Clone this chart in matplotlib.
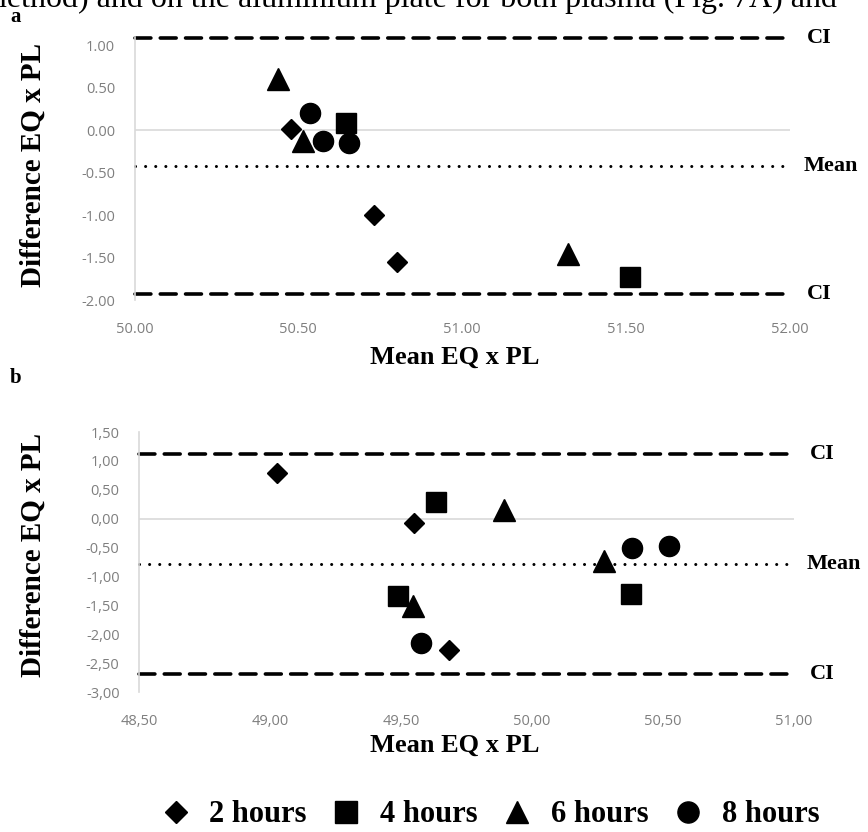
import numpy as np
import matplotlib

matplotlib.use("Agg")
import matplotlib.pyplot as plt
from matplotlib.lines import Line2D
from matplotlib.ticker import FuncFormatter

# ------------------------------------------------------------------
# dati (Bland-Altman EQ x PL)
# ------------------------------------------------------------------
groups = ["2 hours", "4 hours", "6 hours", "8 hours"]
markers = ["D", "s", "^", "o"]

# pannello a
a_mean = {
    "2 hours": [50.478, 50.732, 50.800],
    "4 hours": [50.645, 51.512],
    "6 hours": [50.437, 50.515, 51.322],
    "8 hours": [50.536, 50.576, 50.653],
}
a_diff = {
    "2 hours": [0.01, -1.00, -1.55],
    "4 hours": [0.09, -1.73],
    "6 hours": [0.61, -0.13, -1.46],
    "8 hours": [0.21, -0.12, -0.15],
}
a_ci_up, a_bias, a_ci_low = 1.09, -0.42, -1.93

# pannello b
b_mean = {
    "2 hours": [49.028, 49.551, 49.683],
    "4 hours": [49.634, 49.487, 50.377],
    "6 hours": [49.893, 50.275, 49.547],
    "8 hours": [50.380, 50.524, 49.575],
}
b_diff = {
    "2 hours": [0.79, -0.08, -2.28],
    "4 hours": [0.28, -1.33, -1.30],
    "6 hours": [0.15, -0.74, -1.52],
    "8 hours": [-0.50, -0.48, -2.15],
}
b_ci_up, b_bias, b_ci_low = 1.12, -0.78, -2.68

msizes = {"D": 10.5, "s": 14.5, "^": 15.5, "o": 14.5}

SERIF = "Liberation Serif"
TICK_FONT = "Open Sans"
GRAY = "#d9d9d9"


def draw_panel(ax, means, diffs, ci_up, bias, ci_low, xlim, ylim, dec):
    ax.set_xlim(*xlim)
    ax.set_ylim(*ylim)
    ax.axhline(0, color=GRAY, lw=1.2, zorder=1)
    for y in (ci_up, ci_low):
        ax.axhline(y, color="black", lw=2.6, dashes=(4.4, 2.6),
                   dash_capstyle="round", clip_on=False, zorder=2)
    ax.axhline(bias, color="black", lw=2.2, dashes=(0.01, 3.3),
               dash_capstyle="round", clip_on=False, zorder=2)
    for g, m in zip(groups, markers):
        ax.plot(means[g], diffs[g], ls="none", marker=m, ms=msizes[m],
                color="black", mec="black", zorder=3, clip_on=False)

    for s in ("top", "right", "bottom"):
        ax.spines[s].set_visible(False)
    ax.spines["left"].set_color(GRAY)
    ax.spines["left"].set_linewidth(1.2)
    ax.tick_params(length=0, labelsize=10.5, colors="#7f7f7f", pad=14)
    ax.tick_params(axis="x", pad=16)
    fmt = FuncFormatter(lambda v, p: f"{v:.2f}".replace(".", dec))
    ax.xaxis.set_major_formatter(fmt)
    ax.yaxis.set_major_formatter(fmt)
    for lab in ax.get_xticklabels() + ax.get_yticklabels():
        lab.set_fontfamily(TICK_FONT)

    lab_kw = dict(transform=ax.get_yaxis_transform(), fontsize=16,
                  fontweight="bold", family=SERIF, va="center", ha="left")
    ax.text(1.025, ci_up, "CI", **lab_kw)
    ax.text(1.02, bias, "Mean", **lab_kw)
    ax.text(1.025, ci_low, "CI", **lab_kw)


fig = plt.figure(figsize=(8.68, 8.32), dpi=100)

ax_a = fig.add_axes([134.5 / 868, 1 - 300 / 832, 655.5 / 868, 263 / 832])
draw_panel(ax_a, a_mean, a_diff, a_ci_up, a_bias, a_ci_low,
           (50.0, 52.0), (-2.0, 1.1), ".")
ax_a.set_xticks(np.arange(50.0, 52.01, 0.5))
ax_a.set_yticks(np.arange(-2.0, 1.01, 0.5))

ax_b = fig.add_axes([139 / 868, 1 - 692 / 832, 655 / 868, 260 / 832])
draw_panel(ax_b, b_mean, b_diff, b_ci_up, b_bias, b_ci_low,
           (48.5, 51.0), (-3.0, 1.5), ",")
ax_b.set_xticks(np.arange(48.5, 51.01, 0.5))
ax_b.set_yticks(np.arange(-3.0, 1.51, 0.5))

title_kw = dict(fontweight="bold", family=SERIF)
fig.text(33 / 868, 1 - 165 / 832, "Difference EQ x PL", rotation=90, fontsize=21,
         ha="center", va="center", **title_kw)
fig.text(33 / 868, 1 - 555 / 832, "Difference EQ x PL", rotation=90, fontsize=21,
         ha="center", va="center", **title_kw)
fig.text(455 / 868, 1 - 357 / 832, "Mean EQ x PL", fontsize=19,
         ha="center", va="center", **title_kw)
fig.text(455 / 868, 1 - 745 / 832, "Mean EQ x PL", fontsize=19,
         ha="center", va="center", **title_kw)

fig.text(10 / 868, 1 - 17 / 832, "a", fontsize=15, fontweight="bold", family=SERIF,
         va="center")
fig.text(10 / 868, 1 - 378 / 832, "b", fontsize=15, fontweight="bold", family=SERIF,
         va="center")

# riga di testo del paper tagliata in alto
fig.text(-18 / 868, 1 - 7 / 832,
         "method) and on the aluminium plate for both plasma (Fig. 7A) and",
         fontsize=23, family=SERIF, va="baseline", ha="left")

handles = [Line2D([], [], ls="none", marker=m, ms=msizes[m] * 1.05, color="black")
           for m in markers]
fig.legend(handles, groups, loc="center", bbox_to_anchor=(490 / 868, 1 - 815 / 832),
           ncol=4, frameon=False, handlelength=1.0, handletextpad=0.6,
           columnspacing=0.8, borderpad=0.2,
           prop={"family": SERIF, "weight": "bold", "size": 22})

fig.savefig("out.png", dpi=100)
